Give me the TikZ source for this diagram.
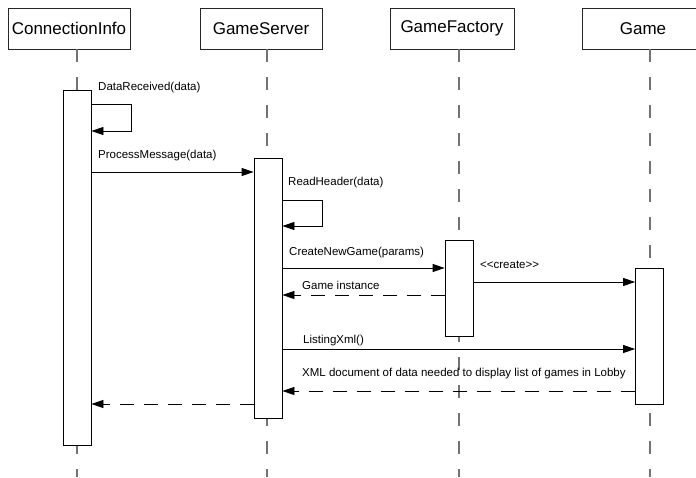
\documentclass[tikz,border=0pt]{standalone}
\usepackage{fontspec}
\setmainfont{Liberation Sans}
\usetikzlibrary{arrows.meta}
\begin{document}
\begin{tikzpicture}[x=1pt,y=-1pt,
  header/.style={draw=black!85,line width=0.8pt,fill=white,minimum height=41pt,
    inner sep=0pt,font=\fontsize{17}{20}\selectfont},
  actbox/.style={draw=black,line width=0.8pt,fill=white,minimum width=28pt,inner sep=0pt},
  lifeline/.style={draw=black!55,line width=1.3pt,dash pattern=on 13pt off 15pt},
  msg/.style={draw=black,line width=0.8pt,-{Triangle[length=12pt,width=8pt]}},
  reply/.style={msg,dash pattern=on 14pt off 10pt},
  lbl/.style={anchor=west,inner sep=0pt,font=\fontsize{11.5}{13}\selectfont}]
\useasboundingbox (0,0) rectangle (696,477);

% object headers
\node[header,minimum width=122pt] (ci) at (69,28.5) {ConnectionInfo};
\node[header,minimum width=122pt] (gs) at (261,28.5) {GameServer};
\node[header,minimum width=124pt] (gf) at (452,28.5) {GameFactory};
\node[header,minimum width=122pt] (gm) at (643,28.5) {Game};

% bottom ends of the lifelines
\coordinate (ciend) at (77,477);
\coordinate (gsend) at (267,477);
\coordinate (gfend) at (459,477);
\coordinate (gmend) at (650,477);

% lifelines
\draw[lifeline] (ci.south -| ciend) -- (ciend);
\draw[lifeline] (gs.south -| gsend) -- (gsend);
\draw[lifeline] (gf.south -| gfend) -- (gfend);
\draw[lifeline] (gm.south -| gmend) -- (gmend);

% activation bars (drawn over the lifelines)
\node[actbox,minimum height=355pt] (ciact) at (77,267.5) {};
\node[actbox,minimum height=260pt] (gsact) at (268,288) {};
\node[actbox,minimum height=96pt] (gfact) at (459,288) {};
\node[actbox,minimum height=136pt] (gmact) at (649.5,336) {};

% DataReceived self call
\node[lbl] (l1) at (98,87.5) {DataReceived(data)};
\draw[msg] (ciact.east |- 0,104) -- (131.5,104) -- (131.5,131) -- (ciact.east |- 0,131);

% ProcessMessage
\node[lbl] (l2) at (98,156) {ProcessMessage(data)};
\draw[msg] (ciact.east |- 0,172) -- (gsact.west |- 0,172);

% ReadHeader self call
\node[lbl] (l3) at (288,183) {ReadHeader(data)};
\draw[msg] (gsact.east |- 0,200) -- (322,200) -- (322,226) -- (gsact.east |- 0,226);

% CreateNewGame
\node[lbl] (l4) at (289,253) {CreateNewGame(params)};
\draw[msg] (gsact.east |- 0,268) -- (gfact.west |- 0,268);

% create
\node[lbl] (l5) at (480,265) {<{}<create>{}>};
\draw[msg] (gfact.east |- 0,282) -- (gmact.west |- 0,282);

% Game instance
\node[lbl] (l6) at (302,285) {Game instance};
\draw[reply] (gfact.west |- 0,295) -- (gsact.east |- 0,295);

% ListingXml
\node[lbl] (l7) at (303,341) {ListingXml()};
\draw[msg] (gsact.east |- 0,349) -- (gmact.west |- 0,349);

% XML reply
\node[lbl] (l8) at (302,373.5) {XML document of data needed to display list of games in Lobby};
\draw[reply] (gmact.west |- 0,391) -- (gsact.east |- 0,391);

% return to ConnectionInfo
\draw[reply] (gsact.west |- 0,404) -- (ciact.east |- 0,404);
\end{tikzpicture}
\end{document}
